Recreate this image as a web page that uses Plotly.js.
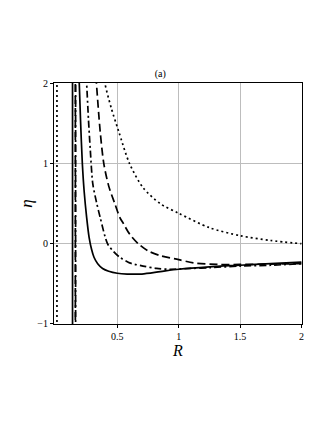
<!DOCTYPE html>
<html>
<head>
<meta charset="utf-8">
<script src="https://cdn.plot.ly/plotly-3.0.1.min.js"></script>
<style>
  body { margin: 0; background: #fff; }
  #plot { width: 327px; height: 423px; }
</style>
</head>
<body>
<div id="plot"></div>
<script>
// curves (R, eta)
var R_solid = [0.186, 0.19, 0.2, 0.215, 0.23, 0.25, 0.27, 0.29, 0.31, 0.34, 0.38, 0.43, 0.5, 0.58, 0.7, 0.85, 1, 1.25, 1.5, 1.75, 2]
var eta_solid = [2.1, 2.0, 1.55, 1.0, 0.65, 0.33, 0.08, -0.07, -0.17, -0.25, -0.31, -0.345, -0.37, -0.38, -0.38, -0.35, -0.32, -0.29, -0.27, -0.25, -0.23]

var R_dashdot = [0.245, 0.25, 0.265, 0.28, 0.3, 0.33, 0.36, 0.42, 0.47, 0.52, 0.6, 0.71, 0.82, 0.93, 1.1, 1.25, 1.5, 1.75, 2]
var eta_dashdot = [2.1, 2.0, 1.55, 1.17, 0.75, 0.52, 0.33, 0.0, -0.1, -0.17, -0.24, -0.28, -0.31, -0.32, -0.31, -0.30, -0.28, -0.27, -0.25]

var R_dash = [0.325, 0.33, 0.36, 0.39, 0.43, 0.48, 0.52, 0.55, 0.6, 0.67, 0.75, 0.85, 1.0, 1.12, 1.32, 1.5, 1.75, 2]
var eta_dash = [2.1, 2.0, 1.41, 1.0, 0.72, 0.5, 0.33, 0.25, 0.12, 0.0, -0.09, -0.15, -0.2, -0.24, -0.26, -0.26, -0.255, -0.25]

var R_dot = [0.395, 0.4, 0.45, 0.51, 0.6, 0.71, 0.85, 1.0, 1.25, 1.5, 1.75, 2]
var eta_dot = [2.1, 2.0, 1.7, 1.41, 1.0, 0.7, 0.5, 0.38, 0.2, 0.1, 0.04, 0.0]

// vertical jumps (asymptotes) drawn by the plotter
var asym = { solid: 0.135, dash: 0.158, dashdot: 0.16, dot: 0.008 }

var xRange = [-0.016, 2.005]
var yRange = [-1.005, 2.01]

var dashes = {
  solid: 'solid',
  dashdot: '7px,3px,2px,3px',
  dash: '8px,4px',
  dot: '2px,3px'
}

function curve(x, y, style) {
  return { x: x, y: y, mode: 'lines', showlegend: false, hoverinfo: 'none',
    line: { color: 'black', width: 1.7, dash: dashes[style], shape: 'spline', smoothing: 0.8 } }
}
function jump(r, style) {
  return { x: [r, r], y: [yRange[0] - 0.1, yRange[1] + 0.1], mode: 'lines', showlegend: false, hoverinfo: 'none',
    line: { color: 'black', width: 1.7, dash: dashes[style] } }
}

var data = [
  jump(asym.dot, 'dot'),
  jump(asym.solid, 'solid'),
  jump(asym.dash, 'dash'),
  jump(asym.dashdot, 'dashdot'),
  curve(R_solid, eta_solid, 'solid'),
  curve(R_dashdot, eta_dashdot, 'dashdot'),
  curve(R_dash, eta_dash, 'dash'),
  curve(R_dot, eta_dot, 'dot')
]

var layout = {
  width: 327, height: 423,
  margin: { l: 54, r: 25, t: 83, b: 99 },
  paper_bgcolor: 'white', plot_bgcolor: 'white',
  font: { family: 'Liberation Serif, serif', color: 'black', size: 10 },
  title: { text: '(a)', font: { size: 10 }, xref: 'container', yref: 'container',
    x: 0.49, y: 0.827, xanchor: 'center', yanchor: 'middle' },
  xaxis: {
    range: xRange, tickvals: [0.5, 1, 1.5, 2], ticktext: ['0.5', '1', '1.5', '2'],
    showgrid: true, gridcolor: '#bdbdbd', gridwidth: 1, zeroline: false,
    showline: true, linecolor: 'black', linewidth: 1, mirror: true,
    ticks: 'outside', ticklen: 3, tickcolor: 'black',
    title: { text: '<i>R</i>', font: { size: 16 }, standoff: 0 }
  },
  yaxis: {
    range: yRange, tickvals: [-1, 0, 1, 2],
    showgrid: true, gridcolor: '#bdbdbd', gridwidth: 1, zeroline: false,
    showline: true, linecolor: 'black', linewidth: 1, mirror: true,
    ticks: 'outside', ticklen: 3, tickcolor: 'black',
    title: { text: '<i>η</i>', font: { size: 17 }, standoff: 0 }
  }
}

Plotly.newPlot('plot', data, layout, { staticPlot: true })
</script>
</body>
</html>
